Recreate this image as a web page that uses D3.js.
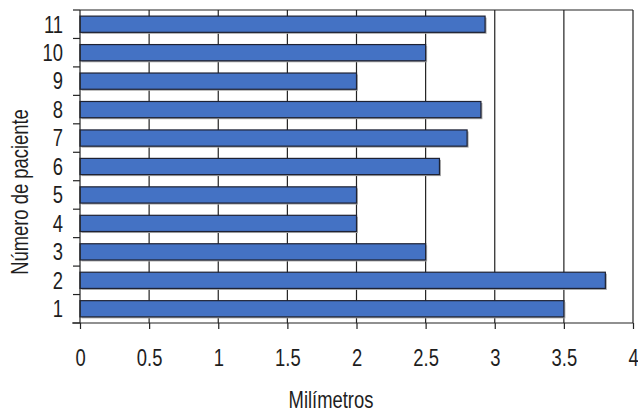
<!DOCTYPE html>
<html>
<head>
<meta charset="utf-8">
<script src="https://cdn.jsdelivr.net/npm/d3@7"></script>
<style>
  html, body { margin: 0; padding: 0; background: #fff; }
  svg { display: block; }
  text { font-family: "Liberation Sans", Arial, Helvetica, sans-serif; fill: #1e1e1e; }
</style>
</head>
<body>
<svg id="chart" width="638" height="412"></svg>
<script>
// Grosor medido por paciente (mm)
const patients = ["1", "2", "3", "4", "5", "6", "7", "8", "9", "10", "11"];
const values   = [3.5, 3.8, 2.5, 2.0, 2.0, 2.6, 2.8, 2.9, 2.0, 2.5, 2.93];
const xTicks   = [0, 0.5, 1, 1.5, 2, 2.5, 3, 3.5, 4];
const xTitle   = "Milímetros";
const yTitle   = "Número de paciente";

const svg = d3.select("#chart");
const plotLeft = 80, plotRight = 633, plotTop = 10, plotBottom = 323;
const fontSize = 23;
const squeeze = 0.8;   // condensed lettering

const x = d3.scaleLinear().domain([0, 4]).range([plotLeft, plotRight]);
const y = d3.scaleBand()
  .domain(patients.slice().reverse())
  .range([plotTop, plotBottom])
  .paddingInner(0.43)
  .paddingOuter(0.215);

// vertical gridlines (including the right frame at 4)
svg.append("g")
  .selectAll("line")
  .data(xTicks.slice(1))
  .join("line")
  .attr("x1", d => x(d)).attr("x2", d => x(d))
  .attr("y1", plotTop).attr("y2", plotBottom)
  .attr("stroke", "#222").attr("stroke-width", 1.2);

// top frame
svg.append("line")
  .attr("x1", plotLeft).attr("x2", plotRight)
  .attr("y1", plotTop).attr("y2", plotTop)
  .attr("stroke", "#222").attr("stroke-width", 1.2);

// bars with a light drop shadow
const rows = patients.map((p, i) => ({ p, v: values[i] }));
svg.append("g")
  .selectAll("rect")
  .data(rows)
  .join("rect")
  .attr("x", x(0) + 1.5)
  .attr("y", d => y(d.p) + 1.5)
  .attr("width", d => x(d.v) - x(0))
  .attr("height", y.bandwidth())
  .attr("fill", "#a8a8a8");

svg.append("g")
  .selectAll("rect")
  .data(rows)
  .join("rect")
  .attr("x", x(0))
  .attr("y", d => y(d.p))
  .attr("width", d => x(d.v) - x(0))
  .attr("height", y.bandwidth())
  .attr("fill", "#4472c4")
  .attr("stroke", "#1e2233")
  .attr("stroke-width", 1.2);

// x axis
const xAxis = svg.append("g")
  .attr("transform", `translate(0,${plotBottom})`)
  .call(d3.axisBottom(x).tickValues(xTicks).tickFormat(d3.format("")).tickSize(6).tickSizeOuter(0));
xAxis.select(".domain").attr("stroke", "#222").attr("stroke-width", 1.2)
  .attr("d", `M${plotLeft - 8},0H${plotRight}`);
xAxis.selectAll(".tick line").attr("stroke", "#222").attr("stroke-width", 1.2);
xAxis.selectAll(".tick text")
  .attr("y", 0).attr("dy", 0)
  .attr("transform", `translate(0,43) scale(${squeeze},1)`)
  .style("font-size", fontSize + "px")
  .style("font-family", "\"Liberation Sans\", Arial, sans-serif")
  .style("fill", "#1e1e1e");

// y axis line
svg.append("line")
  .attr("x1", plotLeft).attr("x2", plotLeft)
  .attr("y1", plotTop).attr("y2", plotBottom)
  .attr("stroke", "#222").attr("stroke-width", 1.2);

// y ticks at category boundaries
const bounds = d3.range(patients.length + 1).map(i => plotTop + i * y.step());
svg.append("g")
  .selectAll("line")
  .data(bounds)
  .join("line")
  .attr("x1", plotLeft - 7).attr("x2", plotLeft)
  .attr("y1", d => d).attr("y2", d => d)
  .attr("stroke", "#222").attr("stroke-width", 1.2);

// y labels
svg.append("g")
  .selectAll("text")
  .data(patients)
  .join("text")
  .attr("transform", d => `translate(63,${y(d) + y.bandwidth() / 2}) scale(${squeeze},1)`)
  .attr("dy", "0.36em")
  .attr("text-anchor", "end")
  .style("font-size", fontSize + "px")
  .text(d => d);

// axis titles
svg.append("text")
  .attr("transform", `translate(331,408) scale(${squeeze},1)`)
  .attr("text-anchor", "middle")
  .style("font-size", fontSize + "px")
  .text(xTitle);

svg.append("text")
  .attr("transform", `translate(28,192) rotate(-90) scale(${squeeze},1)`)
  .attr("text-anchor", "middle")
  .style("font-size", fontSize + "px")
  .text(yTitle);
</script>
</body>
</html>
